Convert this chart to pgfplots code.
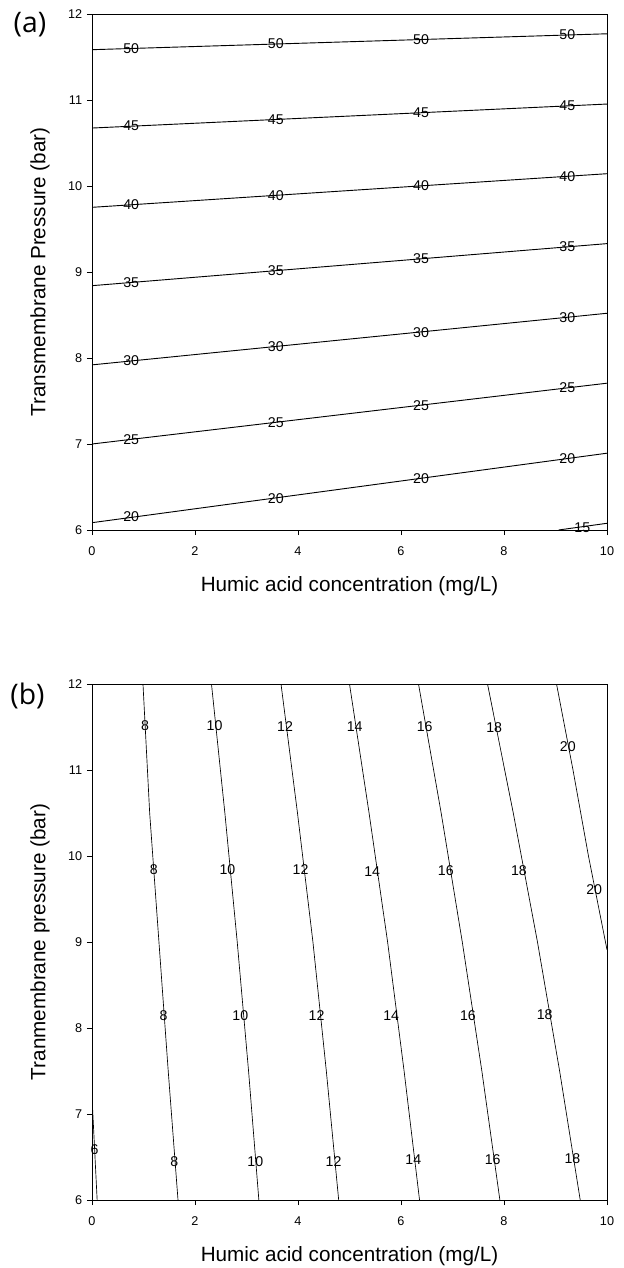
\documentclass[border=0pt]{standalone}
\usepackage{fontspec}
\setmainfont{Liberation Sans}
\newfontfamily\panelfont{Open Sans}
\usepackage{pgfplots}
\pgfplotsset{compat=1.18}

\tikzset{
  cline/.style={black, line width=0.55pt},
  cline2/.style={black, line width=0.4pt},
}
\pgfplotsset{
  contourax/.style={
    scale only axis,
    width=309pt, height=309.6pt,
    xmin=0, xmax=10, ymin=6, ymax=12,
    xtick={0,2,...,10}, ytick={6,7,...,12},
    tick pos=left, tick align=outside,
    major tick length=3pt,
    axis line style={line width=0.6pt},
    tick style={black, line width=0.5pt},
    /pgf/number format/assume math mode=true,
    tick label style={font=\fontsize{7.6}{9}\selectfont},
    xticklabel style={yshift=-3.5pt},
    yticklabel style={xshift=0.6pt},
    label style={font=\fontsize{12.4}{14}\selectfont},
    xlabel style={at={(axis description cs:0.5,-0.108)}, anchor=center},
    ylabel style={at={(axis description cs:-0.101,0.5)}, anchor=center},
    clip=true,
  },
  clabels/.style={
    only marks, mark=none,
    point meta=explicit symbolic,
    nodes near coords,
    nodes near coords align=center,
    every node near coord/.style={anchor=center, inner sep=0pt,
      font=\fontsize{8.5}{9}\selectfont, text=black},
  },
}

\begin{document}
\begin{tikzpicture}
\useasboundingbox (0,0) rectangle (374.4pt,-760.8pt);

\node[font=\panelfont\fontsize{17}{18}\selectfont] at (18pt,-15pt) {(a)};
\node[font=\panelfont\fontsize{17}{18}\selectfont] at (16.5pt,-417.6pt) {(b)};

% ---- (a) ----
\begin{axis}[contourax, at={(55.2pt,-8.4pt)}, anchor=north west,
  xlabel={Humic acid concentration (mg/L)},
  ylabel={Transmembrane Pressure (bar)}]
\addplot[cline] coordinates {(0,11.585) (10,11.77)};
\addplot[cline] coordinates {(0,10.674) (10,10.953)};
\addplot[cline] coordinates {(0,9.752) (10,10.143)};
\addplot[cline] coordinates {(0,8.841) (10,9.33)};
\addplot[cline] coordinates {(0,7.92) (10,8.52)};
\addplot[cline] coordinates {(0,7.0) (10,7.707)};
\addplot[cline] coordinates {(0,6.085) (10,6.893)};
\addplot[cline] coordinates {(9.06,6.0) (10,6.078)};
\addplot[clabels] coordinates {
  (0.76,11.60) [50] (3.57,11.65) [50] (6.39,11.70) [50] (9.23,11.76) [50]
  (0.76,10.70) [45] (3.57,10.77) [45] (6.39,10.85) [45] (9.23,10.93) [45]
  (0.76,9.78) [40] (3.57,9.89) [40] (6.39,10.00) [40] (9.23,10.11) [40]
  (0.76,8.88) [35] (3.57,9.02) [35] (6.39,9.15) [35] (9.23,9.29) [35]
  (0.76,7.97) [30] (3.57,8.13) [30] (6.39,8.30) [30] (9.23,8.47) [30]
  (0.76,7.05) [25] (3.57,7.25) [25] (6.39,7.45) [25] (9.23,7.65) [25]
  (0.76,6.15) [20] (3.57,6.37) [20] (6.39,6.60) [20] (9.23,6.83) [20]
  (9.52,6.03) [15]
};
\end{axis}

% ---- (b) ----
\begin{axis}[contourax, at={(55.2pt,-410.4pt)}, anchor=north west,
  xlabel={Humic acid concentration (mg/L)},
  ylabel={Tranmembrane pressure (bar)}]
\addplot[cline2] coordinates {(0,7.2) (0.05,6.6) (0.1,6)};
\addplot[cline2] coordinates {(0.99,12) (1.12,10.5) (1.30,9) (1.48,7.5) (1.67,6)};
\addplot[cline2] coordinates {(2.32,12) (2.58,10.5) (2.82,9) (3.04,7.5) (3.24,6)};
\addplot[cline2] coordinates {(3.67,12) (3.99,10.5) (4.29,9) (4.55,7.5) (4.79,6)};
\addplot[cline2] coordinates {(5.0,12) (5.38,10.5) (5.74,9) (6.06,7.5) (6.36,6)};
\addplot[cline2] coordinates {(6.34,12) (6.78,10.5) (7.19,9) (7.57,7.5) (7.92,6)};
\addplot[cline2] coordinates {(7.68,12) (8.18,10.5) (8.65,9) (9.08,7.5) (9.48,6)};
\addplot[cline2] coordinates {(9.02,12) (9.34,11) (9.64,10) (10,8.91)};
\addplot[clabels] coordinates {
  (0.05,6.59) [6]
  (1.03,11.52) [8] (1.2,9.84) [8] (1.39,8.14) [8] (1.6,6.45) [8]
  (2.38,11.52) [10] (2.63,9.84) [10] (2.88,8.14) [10] (3.17,6.45) [10]
  (3.75,11.50) [12] (4.05,9.84) [12] (4.36,8.14) [12] (4.69,6.45) [12]
  (5.10,11.50) [14] (5.44,9.82) [14] (5.81,8.14) [14] (6.24,6.47) [14]
  (6.46,11.50) [16] (6.87,9.83) [16] (7.30,8.14) [16] (7.78,6.47) [16]
  (7.81,11.49) [18] (8.29,9.83) [18] (8.79,8.15) [18] (9.33,6.48) [18]
  (9.24,11.27) [20] (9.75,9.61) [20]
};
\end{axis}
\end{tikzpicture}
\end{document}
